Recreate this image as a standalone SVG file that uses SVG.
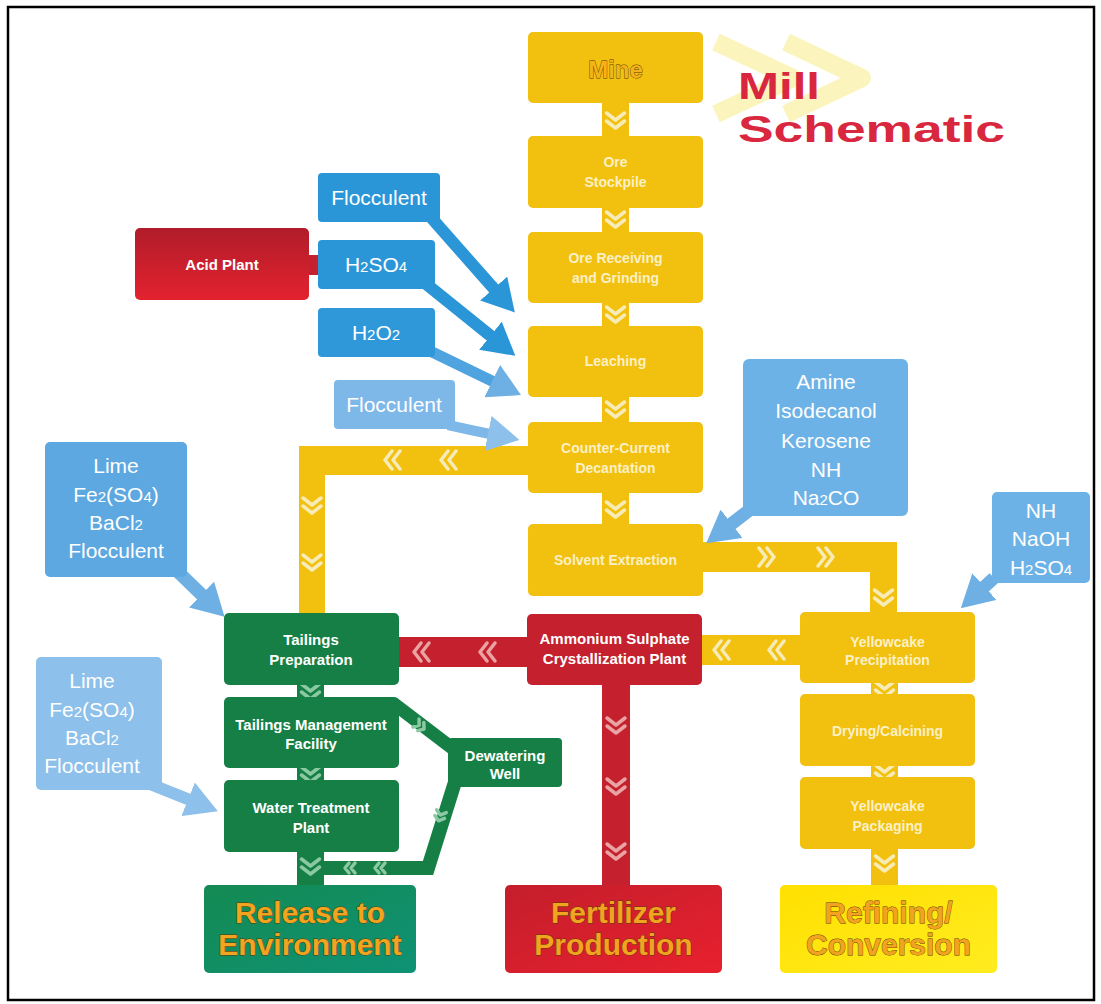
<svg xmlns="http://www.w3.org/2000/svg" width="1101" height="1004" viewBox="0 0 1101 1004">
<defs>
<style>
.ybox{fill:#F2C00E}
.gbox{fill:#167F45}
.rbox{fill:#C4202E}
.ybar{fill:#F2C00E}
.gbar{fill:#167F45}
.rbar{fill:#C4202E}
.cy{fill:none;stroke:#F7ECB8;stroke-width:3.5;stroke-linecap:round;stroke-linejoin:round}
.cr{fill:none;stroke:#E9A3A3;stroke-width:3.5;stroke-linecap:round;stroke-linejoin:round}
.cg{fill:none;stroke:#8BC9A2;stroke-width:3.5;stroke-linecap:round;stroke-linejoin:round}
.t{font-family:"Liberation Sans",Arial,sans-serif;text-anchor:middle}
.tb{font-family:"Liberation Sans",Arial,sans-serif;font-weight:bold;text-anchor:middle}
.yt{fill:#FBF0C6;font-size:14px}
.wt{fill:#FFFFFF;font-size:15px}
.bt{fill:#FFFFFF;font-size:21px}
.sub{font-size:15px}
.big{font-size:30px;fill:#F2A320;stroke:#5A3A00;stroke-width:0.8;paint-order:stroke}
</style>
<path id="chev" d="M-9,-8 L0,-1 L9,-8 M-9,0 L0,7 L9,0"/>
<path id="chevs" d="M-5,-5 L0,-1 L5,-5 M-5,1 L0,5 L5,1"/>
<marker id="ahD" markerUnits="userSpaceOnUse" markerWidth="34" markerHeight="36" refX="2" refY="18" orient="auto"><path d="M0,0 L32,18 L0,36 z" fill="#2A96D8"/></marker>
<marker id="ahL" markerUnits="userSpaceOnUse" markerWidth="34" markerHeight="36" refX="2" refY="18" orient="auto"><path d="M0,0 L32,18 L0,36 z" fill="#6FB0E4"/></marker>
<marker id="ahP" markerUnits="userSpaceOnUse" markerWidth="34" markerHeight="36" refX="2" refY="18" orient="auto"><path d="M0,0 L32,18 L0,36 z" fill="#8DC0EA"/></marker>
<linearGradient id="gRed" x1="0" y1="0" x2="0" y2="1"><stop offset="0" stop-color="#B11C2A"/><stop offset="1" stop-color="#E3222F"/></linearGradient>
<linearGradient id="gFert" x1="0" y1="0" x2="1" y2="1"><stop offset="0" stop-color="#C41E2C"/><stop offset="1" stop-color="#E8202E"/></linearGradient>
<linearGradient id="gRel" x1="0" y1="0" x2="1" y2="1"><stop offset="0" stop-color="#148A52"/><stop offset="1" stop-color="#0E9275"/></linearGradient>
<linearGradient id="gRef" x1="0" y1="0" x2="1" y2="1"><stop offset="0" stop-color="#FFE000"/><stop offset="1" stop-color="#FFEC20"/></linearGradient>
</defs>

<rect x="8" y="7" width="1086" height="993" fill="#FFFFFF" stroke="#000000" stroke-width="2.5"/>

<!-- title -->
<g id="title">
<polyline points="716,42 793,78 716,114" fill="none" stroke="#F9F0A6" stroke-width="18" opacity="0.75" stroke-linejoin="round"/>
<polyline points="786,42 862,78 786,114" fill="none" stroke="#F9F0A6" stroke-width="18" opacity="0.75" stroke-linejoin="round"/>
<text x="738" y="99" font-family="Liberation Sans,Arial,sans-serif" font-weight="bold" font-size="36" fill="#D8273F" textLength="82" lengthAdjust="spacingAndGlyphs">Mill</text>
<text x="738" y="142" font-family="Liberation Sans,Arial,sans-serif" font-weight="bold" font-size="36" fill="#D8273F" textLength="267" lengthAdjust="spacingAndGlyphs">Schematic</text>
</g>

<!-- connectors -->
<g id="connectors">
<!-- center column -->
<rect class="ybar" x="602" y="100" width="27" height="39"/>
<rect class="ybar" x="602" y="205" width="27" height="30"/>
<rect class="ybar" x="602" y="300" width="27" height="29"/>
<rect class="ybar" x="602" y="394" width="27" height="31"/>
<rect class="ybar" x="602" y="490" width="27" height="37"/>
<use href="#chev" class="cy" x="615.5" y="121"/>
<use href="#chev" class="cy" x="615.5" y="220"/>
<use href="#chev" class="cy" x="615.5" y="315"/>
<use href="#chev" class="cy" x="615.5" y="410"/>
<use href="#chev" class="cy" x="615.5" y="510"/>
<!-- CCD to tailings -->
<path class="ybar" d="M299,446 H531 V475 H325 V614 H299 Z"/>
<use href="#chev" class="cy" transform="translate(392,460) rotate(90)"/>
<use href="#chev" class="cy" transform="translate(448,460) rotate(90)"/>
<use href="#chev" class="cy" x="312" y="506"/>
<use href="#chev" class="cy" x="312" y="563"/>
<!-- SX to yellowcake -->
<path class="ybar" d="M700,542 H897 V614 H870 V572 H700 Z"/>
<use href="#chev" class="cy" transform="translate(767,557) rotate(-90)"/>
<use href="#chev" class="cy" transform="translate(826,557) rotate(-90)"/>
<use href="#chev" class="cy" x="883.5" y="598"/>
<!-- yellowcake to ammonium -->
<rect class="ybar" x="699" y="635" width="104" height="30"/>
<use href="#chev" class="cy" transform="translate(721,650) rotate(90)"/>
<use href="#chev" class="cy" transform="translate(776,650) rotate(90)"/>
<!-- ammonium to tailings -->
<rect class="rbar" x="397" y="637" width="133" height="30"/>
<use href="#chev" class="cr" transform="translate(421,652) rotate(90)"/>
<use href="#chev" class="cr" transform="translate(487,652) rotate(90)"/>
<!-- ammonium to fertilizer -->
<rect class="rbar" x="602" y="682" width="28" height="206"/>
<use href="#chev" class="cr" x="616" y="726"/>
<use href="#chev" class="cr" x="616" y="787"/>
<use href="#chev" class="cr" x="616" y="852"/>
<!-- right column -->
<rect class="ybar" x="871" y="680" width="27" height="17"/>
<rect class="ybar" x="871" y="763" width="27" height="17"/>
<rect class="ybar" x="871" y="846" width="27" height="41"/>
<use href="#chev" class="cy" x="884.5" y="690"/>
<use href="#chev" class="cy" x="884.5" y="773"/>
<use href="#chev" class="cy" x="884.5" y="864"/>
<!-- green column -->
<rect class="gbar" x="297" y="682" width="27" height="18"/>
<rect class="gbar" x="297" y="765" width="27" height="18"/>
<rect class="gbar" x="297" y="849" width="27" height="38"/>
<use href="#chev" class="cg" x="310.5" y="692"/>
<use href="#chev" class="cg" x="310.5" y="775"/>
<use href="#chev" class="cg" x="310.5" y="867"/>
<!-- dewatering loop -->
<path d="M393,703 L452,748" fill="none" stroke="#167F45" stroke-width="13"/>
<path d="M455,782 L428,868 L322,868" fill="none" stroke="#167F45" stroke-width="14" stroke-linejoin="miter"/>
<use href="#chevs" class="cg" transform="translate(420,726) rotate(-53)"/>
<use href="#chevs" class="cg" transform="translate(440,816) rotate(17)"/>
<use href="#chevs" class="cg" transform="translate(380,868) rotate(90)"/>
<use href="#chevs" class="cg" transform="translate(350,868) rotate(90)"/>
<!-- acid plant link -->
<rect class="rbar" x="306" y="255" width="14" height="20"/>
<!-- reagent arrows -->
<line x1="428" y1="214" x2="495" y2="290" stroke="#2A96D8" stroke-width="12" marker-end="url(#ahD)"/>
<line x1="425" y1="283" x2="492" y2="337" stroke="#2A96D8" stroke-width="12" marker-end="url(#ahD)"/>
<line x1="428" y1="350" x2="494" y2="382" stroke="#4FA3DE" stroke-width="11" marker-end="url(#ahL)"/>
<path d="M448,425 Q470,430 490,434" fill="none" stroke="#7DB8E8" stroke-width="10" marker-end="url(#ahP)"/>
<line x1="172" y1="566" x2="203" y2="596" stroke="#6FB0E4" stroke-width="13" marker-end="url(#ahL)"/>
<line x1="145" y1="782" x2="190" y2="800" stroke="#8DC0EA" stroke-width="12" marker-end="url(#ahP)"/>
<line x1="752" y1="508" x2="730" y2="525" stroke="#6FB0E4" stroke-width="13" marker-end="url(#ahL)"/>
<line x1="994" y1="578" x2="983" y2="588" stroke="#6FB0E4" stroke-width="13" marker-end="url(#ahL)"/>
</g>

<!-- center column nodes -->
<g id="mine"><rect class="ybox" x="528" y="32" width="175" height="71" rx="5"/>
<text class="tb" x="615.5" y="78" font-size="24" fill="#F6B21A" stroke="#5A3A00" stroke-width="0.8" paint-order="stroke">Mine</text></g>
<g id="ore-stockpile"><rect class="ybox" x="528" y="136" width="175" height="72" rx="5"/>
<text class="tb yt" x="615.5" y="167">Ore</text><text class="tb yt" x="615.5" y="187">Stockpile</text></g>
<g id="ore-receiving"><rect class="ybox" x="528" y="232" width="175" height="71" rx="5"/>
<text class="tb yt" x="615.5" y="263">Ore Receiving</text><text class="tb yt" x="615.5" y="283">and Grinding</text></g>
<g id="leaching"><rect class="ybox" x="528" y="326" width="175" height="71" rx="5"/>
<text class="tb yt" x="615.5" y="366">Leaching</text></g>
<g id="ccd"><rect class="ybox" x="528" y="422" width="175" height="71" rx="5"/>
<text class="tb yt" x="615.5" y="453">Counter-Current</text><text class="tb yt" x="615.5" y="473">Decantation</text></g>
<g id="solvent-extraction"><rect class="ybox" x="528" y="524" width="175" height="72" rx="5"/>
<text class="tb yt" x="615.5" y="565">Solvent Extraction</text></g>

<!-- reagents left -->
<g id="acid-plant"><rect x="135" y="228" width="174" height="72" rx="5" fill="url(#gRed)"/>
<text class="tb wt" x="222" y="270" font-size="16">Acid Plant</text></g>
<g id="flocculent-1"><rect x="318" y="173" width="122" height="49" rx="4" fill="#2A96D8"/>
<text class="t bt" x="379" y="205">Flocculent</text></g>
<g id="h2so4"><rect x="318" y="240" width="117" height="49" rx="4" fill="#2A96D8"/>
<text class="t bt" x="376" y="272">H<tspan class="sub">2</tspan>SO<tspan class="sub">4</tspan></text></g>
<g id="h2o2"><rect x="318" y="308" width="117" height="49" rx="4" fill="#2E98D9"/>
<text class="t bt" x="376" y="340">H<tspan class="sub">2</tspan>O<tspan class="sub">2</tspan></text></g>
<g id="flocculent-2"><rect x="334" y="380" width="121" height="49" rx="4" fill="#7DB8E8"/>
<text class="t bt" x="394" y="412" fill="#F2F8FF">Flocculent</text></g>
<g id="reagents-tailings"><rect x="45" y="442" width="142" height="135" rx="5" fill="#5DA8E0"/>
<text class="t bt" x="116" y="473">Lime</text><text class="t bt" x="116" y="502">Fe<tspan class="sub">2</tspan>(SO<tspan class="sub">4</tspan>)</text>
<text class="t bt" x="116" y="530">BaCl<tspan class="sub">2</tspan></text><text class="t bt" x="116" y="558">Flocculent</text></g>
<g id="reagents-water"><rect x="36" y="657" width="126" height="133" rx="5" fill="#8DC0EA"/>
<text class="t bt" x="92" y="688">Lime</text><text class="t bt" x="92" y="717">Fe<tspan class="sub">2</tspan>(SO<tspan class="sub">4</tspan>)</text>
<text class="t bt" x="92" y="745">BaCl<tspan class="sub">2</tspan></text><text class="t bt" x="92" y="773">Flocculent</text></g>

<!-- reagents right -->
<g id="reagents-sx"><rect x="743" y="359" width="165" height="157" rx="6" fill="#6DB2E6"/>
<text class="t bt" x="826" y="389">Amine</text><text class="t bt" x="826" y="418">Isodecanol</text>
<text class="t bt" x="826" y="448">Kerosene</text><text class="t bt" x="826" y="477">NH</text>
<text class="t bt" x="826" y="505">Na<tspan class="sub">2</tspan>CO</text></g>
<g id="reagents-precip"><rect x="992" y="492" width="98" height="91" rx="5" fill="#6DB2E6"/>
<text class="t bt" x="1041" y="518">NH</text><text class="t bt" x="1041" y="546">NaOH</text>
<text class="t bt" x="1041" y="575">H<tspan class="sub">2</tspan>SO<tspan class="sub">4</tspan></text></g>

<!-- tailings -->
<g id="tailings-preparation"><rect class="gbox" x="224" y="613" width="175" height="72" rx="5"/>
<text class="tb wt" x="311" y="645">Tailings</text><text class="tb wt" x="311" y="665">Preparation</text></g>
<g id="tailings-management"><rect class="gbox" x="224" y="697" width="175" height="71" rx="5"/>
<text class="tb wt" x="311" y="730">Tailings Management</text><text class="tb wt" x="311" y="749">Facility</text></g>
<g id="water-treatment"><rect class="gbox" x="224" y="780" width="175" height="72" rx="5"/>
<text class="tb wt" x="311" y="813">Water Treatment</text><text class="tb wt" x="311" y="833">Plant</text></g>
<g id="dewatering-well"><rect class="gbox" x="448" y="738" width="114" height="49" rx="4"/>
<text class="tb wt" x="505" y="761">Dewatering</text><text class="tb wt" x="505" y="779">Well</text></g>

<!-- ammonium sulphate -->
<g id="ammonium-sulphate"><rect class="rbox" x="527" y="614" width="175" height="71" rx="5"/>
<text class="tb wt" x="614.5" y="644">Ammonium Sulphate</text><text class="tb wt" x="614.5" y="664">Crystallization Plant</text></g>

<!-- yellowcake -->
<g id="yellowcake-precipitation"><rect class="ybox" x="800" y="612" width="175" height="71" rx="5"/>
<text class="tb yt" x="887.5" y="647">Yellowcake</text><text class="tb yt" x="887.5" y="665">Precipitation</text></g>
<g id="drying-calcining"><rect class="ybox" x="800" y="694" width="175" height="72" rx="5"/>
<text class="tb yt" x="887.5" y="736">Drying/Calcining</text></g>
<g id="yellowcake-packaging"><rect class="ybox" x="800" y="777" width="175" height="72" rx="5"/>
<text class="tb yt" x="887.5" y="811">Yellowcake</text><text class="tb yt" x="887.5" y="831">Packaging</text></g>

<!-- outputs -->
<g id="release"><rect x="204" y="885" width="212" height="88" rx="5" fill="url(#gRel)"/>
<text class="tb big" x="310" y="923">Release to</text><text class="tb big" x="310" y="955">Environment</text></g>
<g id="fertilizer"><rect x="505" y="885" width="217" height="88" rx="5" fill="url(#gFert)"/>
<text class="tb big" x="613.5" y="923">Fertilizer</text><text class="tb big" x="613.5" y="955">Production</text></g>
<g id="refining"><rect x="780" y="885" width="217" height="88" rx="5" fill="url(#gRef)"/>
<text class="tb big" x="888.5" y="923" fill="#F0C010" stroke="#8A6A00">Refining/</text><text class="tb big" x="888.5" y="955" fill="#F0C010" stroke="#8A6A00">Conversion</text></g>
</svg>
